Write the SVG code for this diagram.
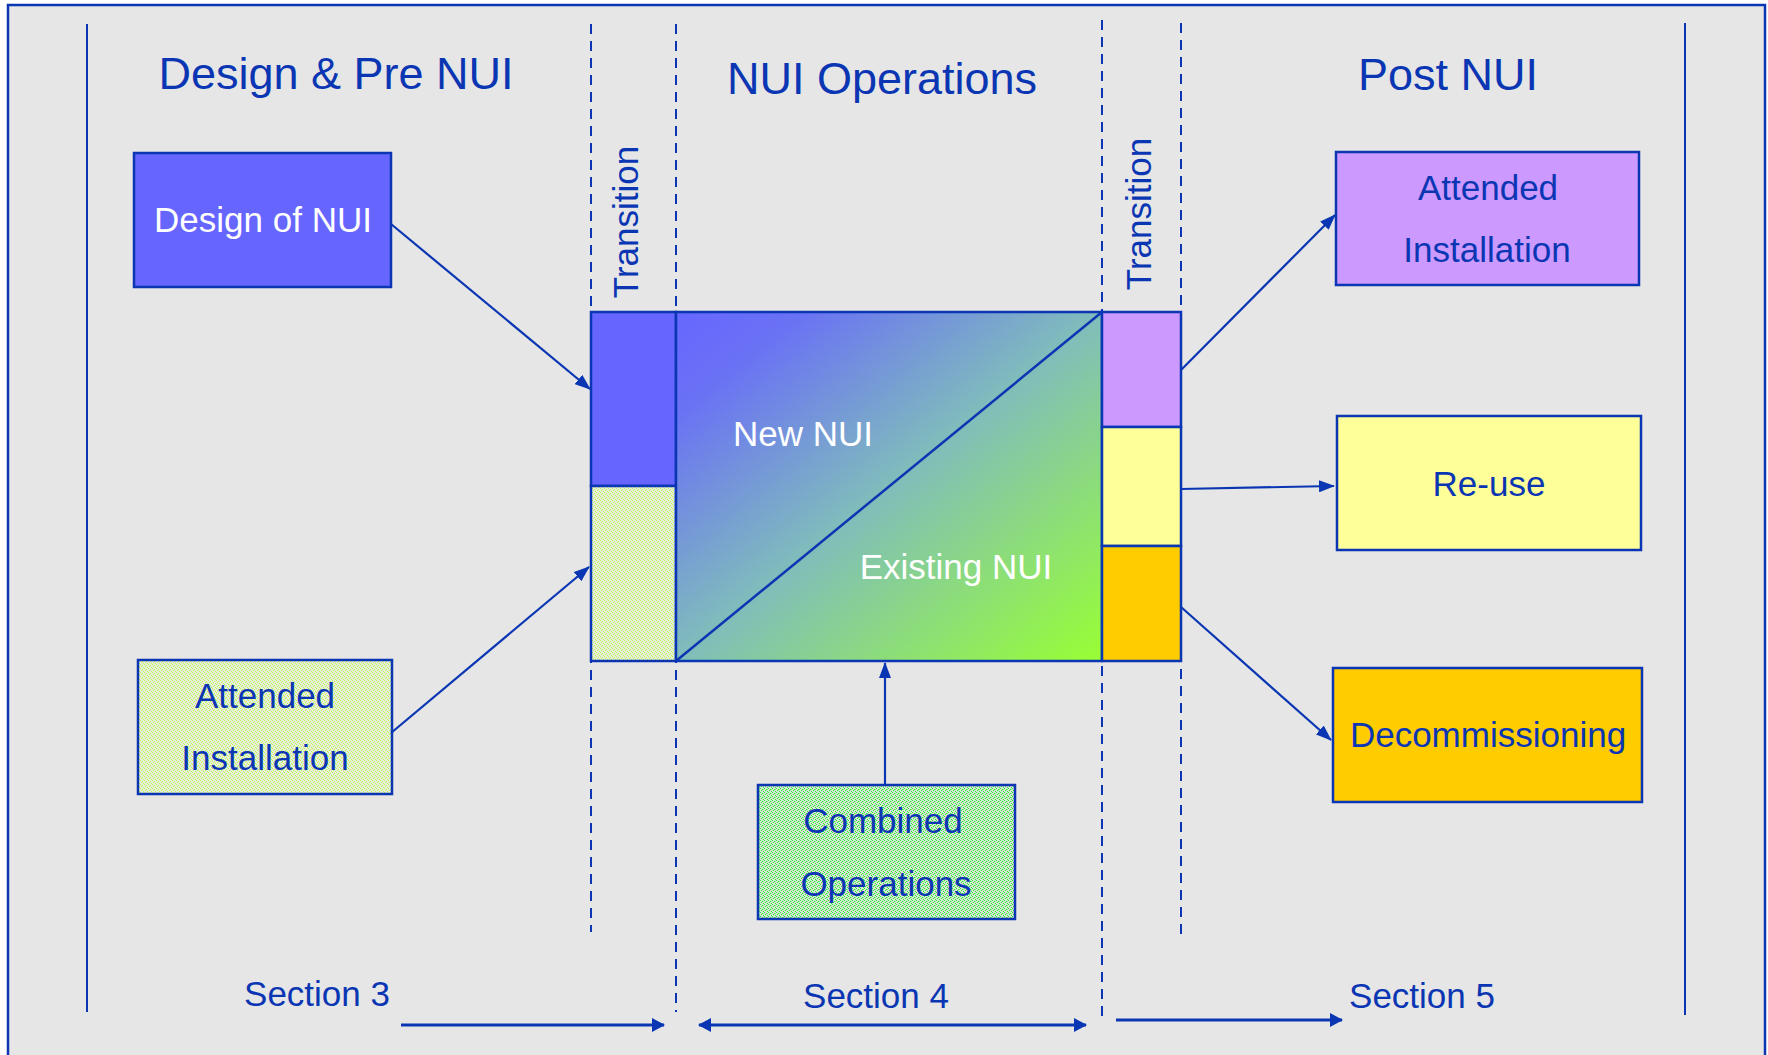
<svg xmlns="http://www.w3.org/2000/svg" width="1768" height="1055" viewBox="0 0 1768 1055">
<style>
text{font-family:"Liberation Sans",Arial,sans-serif;fill:#0B36B3;text-anchor:middle}
.t45{font-size:45px}
.t35{font-size:35px}
.w{fill:#FFFFFF}
.box{stroke:#0B36B3;stroke-width:2.5}
.solid{stroke:#0B36B3;stroke-width:2;fill:none}
.dash{stroke:#0B36B3;stroke-width:2;fill:none;stroke-dasharray:10 7}
.con{stroke:#0B36B3;stroke-width:2.2;fill:none;marker-end:url(#ah)}
.sec{stroke:#0B36B3;stroke-width:3;fill:none;marker-end:url(#ah2)}
</style>
<defs>
<marker id="ah" viewBox="0 0 16 12" refX="15" refY="6" markerWidth="16" markerHeight="12" markerUnits="userSpaceOnUse" orient="auto-start-reverse"><path d="M0,0 L16,6 L0,12 Z" fill="#0B36B3"/></marker>
<marker id="ah2" viewBox="0 0 13 14" refX="12" refY="7" markerWidth="13" markerHeight="14" markerUnits="userSpaceOnUse" orient="auto-start-reverse"><path d="M0,0 L13,7 L0,14 Z" fill="#0B36B3"/></marker>
<linearGradient id="g" x1="0" y1="0" x2="1" y2="1"><stop offset="0" stop-color="#6666FF"/><stop offset="0.15" stop-color="#6A72F4"/><stop offset="0.5" stop-color="#80BDBB"/><stop offset="1" stop-color="#99FF33"/></linearGradient>
<pattern id="pY" width="4" height="4" patternUnits="userSpaceOnUse"><rect width="4" height="4" fill="#E8EBE0"/><rect x="0" y="0" width="1" height="1" fill="#BCFF40"/><rect x="2" y="1" width="1" height="1" fill="#BCFF40"/><rect x="1" y="2" width="1" height="1" fill="#BCFF40"/><rect x="3" y="3" width="1" height="1" fill="#BCFF40"/></pattern>
<pattern id="pG" width="4" height="4" patternUnits="userSpaceOnUse"><rect width="4" height="4" fill="#DCDEDC"/><rect x="0" y="0" width="1" height="1" fill="#22FF22"/><rect x="2" y="1" width="1" height="1" fill="#22FF22"/><rect x="1" y="2" width="1" height="1" fill="#22FF22"/><rect x="3" y="3" width="1" height="1" fill="#22FF22"/><rect x="3" y="1" width="1" height="1" fill="#80F080"/></pattern>
</defs>
<rect x="0" y="0" width="1768" height="1055" fill="#FFFFFF"/>
<rect x="8" y="5" width="1757" height="1060" fill="#E6E6E6" stroke="#0B36B3" stroke-width="2.5"/>

<g id="guides">
<line class="solid" x1="87" y1="24" x2="87" y2="1012"/>
<line class="solid" x1="1685" y1="23" x2="1685" y2="1015"/>
<line class="dash" x1="591" y1="24" x2="591" y2="932"/>
<line class="dash" x1="676" y1="24" x2="676" y2="1012"/>
<line class="dash" x1="1102" y1="20" x2="1102" y2="1017"/>
<line class="dash" x1="1181" y1="23" x2="1181" y2="939"/>
</g>

<g id="titles">
<text class="t45" x="336" y="89">Design &amp; Pre NUI</text>
<text class="t45" x="882" y="94">NUI Operations</text>
<text class="t45" x="1448" y="90">Post NUI</text>
<text class="t35" transform="translate(638,222) rotate(-90)">Transition</text>
<text class="t35" transform="translate(1151,214) rotate(-90)">Transition</text>
</g>

<g id="design-of-nui">
<rect class="box" x="134" y="153" width="257" height="134" fill="#6666FF"/>
<text class="t35 w" x="263" y="232">Design of NUI</text>
</g>

<g id="attended-installation-pre">
<rect class="box" x="138" y="660" width="254" height="134" fill="url(#pY)"/>
<text class="t35" x="265" y="708">Attended</text>
<text class="t35" x="265" y="770">Installation</text>
</g>

<g id="transition-in">
<rect class="box" x="591" y="312" width="85" height="174" fill="#6666FF"/>
<rect class="box" x="591" y="486" width="85" height="175" fill="url(#pY)"/>
</g>

<g id="nui-operations">
<rect class="box" x="676" y="312" width="426" height="349" fill="url(#g)"/>
<line x1="676" y1="661" x2="1102" y2="312" stroke="#0B36B3" stroke-width="2.5"/>
<text class="t35 w" x="803" y="446">New NUI</text>
<text class="t35 w" x="956" y="579">Existing NUI</text>
</g>

<g id="transition-out">
<rect class="box" x="1102" y="312" width="79" height="115" fill="#CC99FF"/>
<rect class="box" x="1102" y="427" width="79" height="119" fill="#FFFF99"/>
<rect class="box" x="1102" y="546" width="79" height="115" fill="#FFCC00"/>
</g>

<g id="combined-operations">
<rect class="box" x="758" y="785" width="257" height="134" fill="url(#pG)"/>
<text class="t35" x="883" y="833">Combined</text>
<text class="t35" x="886" y="896">Operations</text>
</g>

<g id="attended-installation-post">
<rect class="box" x="1336" y="152" width="303" height="133" fill="#CC99FF"/>
<text class="t35" x="1488" y="200">Attended</text>
<text class="t35" x="1487" y="262">Installation</text>
</g>

<g id="re-use">
<rect class="box" x="1337" y="416" width="304" height="134" fill="#FFFF99"/>
<text class="t35" x="1489" y="496">Re-use</text>
</g>

<g id="decommissioning">
<rect class="box" x="1333" y="668" width="309" height="134" fill="#FFCC00"/>
<text class="t35" x="1488" y="747">Decommissioning</text>
</g>

<g id="sections">
<text class="t35" x="317" y="1006">Section 3</text>
<text class="t35" x="876" y="1008">Section 4</text>
<text class="t35" x="1422" y="1008">Section 5</text>
</g>

<g id="connectors">
<line class="con" x1="391" y1="224" x2="590" y2="389"/>
<line class="con" x1="391" y1="733" x2="589" y2="567"/>
<line class="con" x1="885" y1="785" x2="885" y2="663"/>
<line class="con" x1="1181" y1="370" x2="1335" y2="215"/>
<line class="con" x1="1181" y1="489" x2="1334" y2="486"/>
<line class="con" x1="1181" y1="607" x2="1331" y2="740"/>
<line class="sec" x1="401" y1="1025" x2="664" y2="1025"/>
<line class="sec" x1="699" y1="1025" x2="1086" y2="1025" marker-start="url(#ah2)"/>
<line class="sec" x1="1116" y1="1020" x2="1342" y2="1020"/>
</g>
</svg>
